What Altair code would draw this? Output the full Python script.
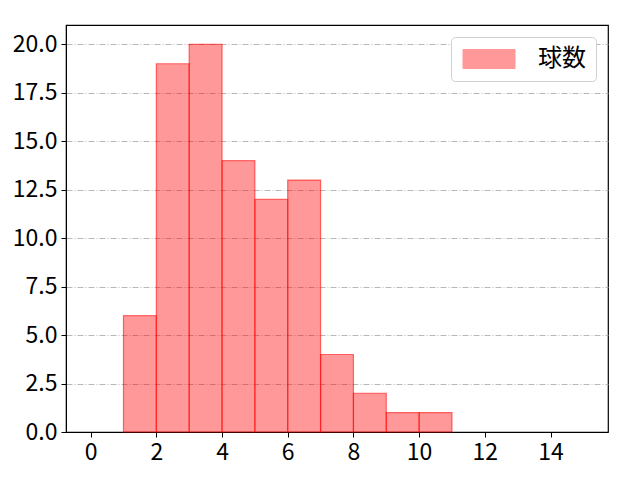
import altair as alt
import pandas as pd

bin_start = [1, 2, 3, 4, 5, 6, 7, 8, 9, 10]
bin_end = [2, 3, 4, 5, 6, 7, 8, 9, 10, 11]
counts = [6, 19, 20, 14, 12, 13, 4, 2, 1, 1]
series = "球数"
x_ticks = [0, 2, 4, 6, 8, 10, 12, 14]
y_ticks = [0, 2.5, 5, 7.5, 10, 12.5, 15, 17.5, 20]

df = pd.DataFrame({"x": bin_start, "x2": bin_end, "y": counts,
                   "y0": [0] * len(counts), "s": [series] * len(counts)})

FONT = "Noto Sans CJK JP"

chart = alt.Chart(df).mark_rect(
    fillOpacity=0.4, stroke="#ff0000", strokeOpacity=0.55, strokeWidth=1.2
).encode(
    x=alt.X("x:Q", scale=alt.Scale(domain=[-0.75, 15.75], nice=False, zero=False),
            axis=alt.Axis(values=x_ticks, title=None, grid=False, format="d")),
    x2="x2:Q",
    y=alt.Y("y:Q", scale=alt.Scale(domain=[0, 21], nice=False),
            axis=alt.Axis(values=y_ticks, title=None, format=".1f", grid=True,
                          gridColor="#b0b0b0", gridDash=[6, 2, 1, 2], gridWidth=0.9)),
    y2="y0:Q",
    color=alt.Color("s:N", scale=alt.Scale(range=["#ff0000"]),
                    legend=alt.Legend(title=None, orient="top-right", offset=12,
                                      symbolType="M-1,-0.95L4.2,-0.95L4.2,0.95L-1,0.95Z",
                                      symbolSize=400, symbolOpacity=0.4,
                                      symbolStrokeColor="#ff0000", symbolStrokeWidth=1,
                                      labelFontSize=24, labelFont=FONT, labelOffset=53,
                                      fillColor="white", strokeColor="#d0d0d0",
                                      cornerRadius=4, padding=10)),
).properties(
    width=542, height=407,
    padding={"left": 58, "top": 17, "right": 20, "bottom": 40},
    autosize=alt.AutoSizeParams(type="none"),
).configure_axis(
    labelFont=FONT, labelFontSize=23, labelColor="black",
    domainColor="black", tickColor="black", tickSize=5, labelPadding=4,
).configure_view(
    stroke="black", strokeWidth=1.2
)

chart.save("out.html", embed_options={"renderer": "svg", "actions": False})
